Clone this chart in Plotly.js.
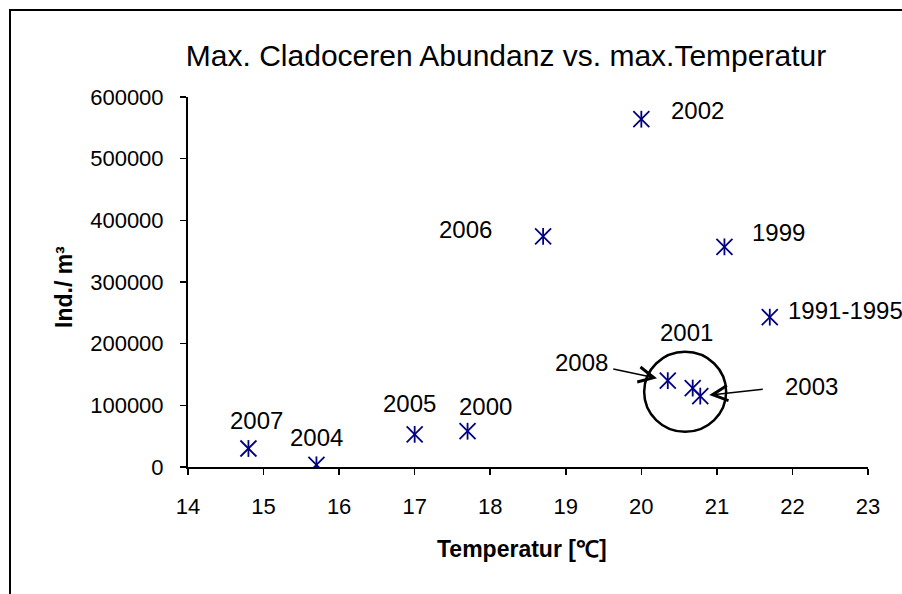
<!DOCTYPE html>
<html><head><meta charset="utf-8">
<script src="https://cdn.plot.ly/plotly-3.0.1.min.js"></script>
<style>html,body{margin:0;padding:0;background:#fff;}#chart{width:902px;height:594px;}</style>
</head><body><div id="chart"></div>
<script>
// ---- data ----
const years = ['2007', '2004', '2005', '2000', '2006', '2002', '2008', '2001', '2003', '1999', '1991-1995'];
const temperature = [14.8, 15.7, 17.0, 17.7, 18.7, 20.0, 20.35, 20.68, 20.78, 21.1, 21.7];
const abundance = [30000, 3500, 53000, 58000, 374000, 564000, 140000, 128000, 115000, 357000, 243000];
const xTickVals = [14, 15, 16, 17, 18, 19, 20, 21, 22, 23];
const yTickVals = [0, 100000, 200000, 300000, 400000, 500000, 600000];
const titleText = 'Max. Cladoceren Abundanz vs. max.Temperatur';
const xTitle = 'Temperatur [\u2103]';
const yTitle = 'Ind./ m\u00b3';

// ---- label placement (pixel offsets from each point) ----
const labelOffsets = {
  '2007': [8, 28, 'center'], '2004': [0, 27, 'center'], '2005': [-5, 31, 'center'],
  '2000': [18, 25, 'center'], '2006': [-78, 7, 'center'], '2002': [56, 9, 'center'],
  '2008': [-86, 18, 'center'], '2001': [-6, 56, 'center'], '2003': [111, 10, 'center'],
  '1999': [54, 14, 'center'], '1991-1995': [16, 7, 'left']
};
const arrowSpecs = { '2008': [-56, -12, 11], '2003': [64, -7, 9] };

const navy = '#000080';
const font = 'Liberation Sans, Arial, sans-serif';

const traces = [
  { x: temperature, y: abundance, mode: 'markers', type: 'scatter', hoverinfo: 'skip',
    marker: { symbol: 'x-thin-open', size: 16, color: navy, line: { color: navy, width: 1.8 } } },
  { x: temperature, y: abundance, mode: 'markers', type: 'scatter', hoverinfo: 'skip',
    marker: { symbol: 'line-ns-open', size: 12, color: navy, line: { color: navy, width: 1.8 } } }
];

const annotations = [];
years.forEach((yr, i) => {
  const o = labelOffsets[yr];
  annotations.push({ x: temperature[i], y: abundance[i], xref: 'x', yref: 'y', text: yr,
    showarrow: false, xshift: o[0], yshift: o[1], xanchor: o[2], yanchor: 'middle',
    font: { family: font, size: 24, color: '#000' } });
  if (arrowSpecs[yr]) {
    const a = arrowSpecs[yr];
    annotations.push({ x: temperature[i], y: abundance[i], xref: 'x', yref: 'y', text: '',
      showarrow: true, ax: a[0], ay: a[1], standoff: a[2], arrowhead: 5, arrowsize: 2,
      arrowwidth: 1.5, arrowcolor: '#000' });
  }
});
// axis titles
annotations.push({ xref: 'paper', yref: 'paper', x: (522 - 188) / 680, y: (467 - 549) / 370,
  text: xTitle, showarrow: false, xanchor: 'center', yanchor: 'middle',
  font: { family: font, size: 23, color: '#000', weight: 'bold' } });
annotations.push({ xref: 'paper', yref: 'paper', x: (64 - 188) / 680, y: (467 - 287) / 370,
  text: yTitle, showarrow: false, xanchor: 'center', yanchor: 'middle', textangle: -90,
  font: { family: font, size: 23, color: '#000', weight: 'bold' } });

const layout = {
  width: 902, height: 594,
  margin: { l: 188, r: 34, t: 97, b: 127 },
  paper_bgcolor: '#fff', plot_bgcolor: '#fff',
  showlegend: false,
  font: { family: font, color: '#000' },
  title: { text: titleText, font: { family: font, size: 30, color: '#000' },
    xref: 'container', yref: 'container', x: 506 / 902, y: 1 - 55 / 594, xanchor: 'center', yanchor: 'middle' },
  xaxis: { range: [14, 23], tickvals: xTickVals, ticktext: xTickVals.map(String),
    showgrid: false, zeroline: false, showline: true, linecolor: '#000', linewidth: 2,
    ticks: 'outside', ticklen: 6, tickwidth: 1.5, tickcolor: '#000',
    tickfont: { family: font, size: 22, color: '#000' }, ticklabelstandoff: 13 },
  yaxis: { range: [0, 600000], tickvals: yTickVals, ticktext: yTickVals.map(String),
    showgrid: false, zeroline: false, showline: true, linecolor: '#000', linewidth: 2,
    ticks: 'outside', ticklen: 6, tickwidth: 1.5, tickcolor: '#000',
    tickfont: { family: font, size: 22, color: '#000' }, ticklabelstandoff: 12 },
  shapes: [
    { type: 'circle', xref: 'x', yref: 'y', xsizemode: 'pixel', ysizemode: 'pixel',
      xanchor: 20.58, yanchor: 122000, x0: -41, x1: 41, y0: -40, y1: 40,
      line: { color: '#000', width: 2.5 } },
    { type: 'rect', xref: 'paper', yref: 'paper', x0: -178 / 680, x1: 2, y0: -2, y1: (467 - 10) / 370,
      line: { color: '#000', width: 2 }, fillcolor: 'rgba(0,0,0,0)' }
  ],
  annotations: annotations
};

Plotly.newPlot('chart', traces, layout, { staticPlot: true, displayModeBar: false });
</script>
</body></html>
